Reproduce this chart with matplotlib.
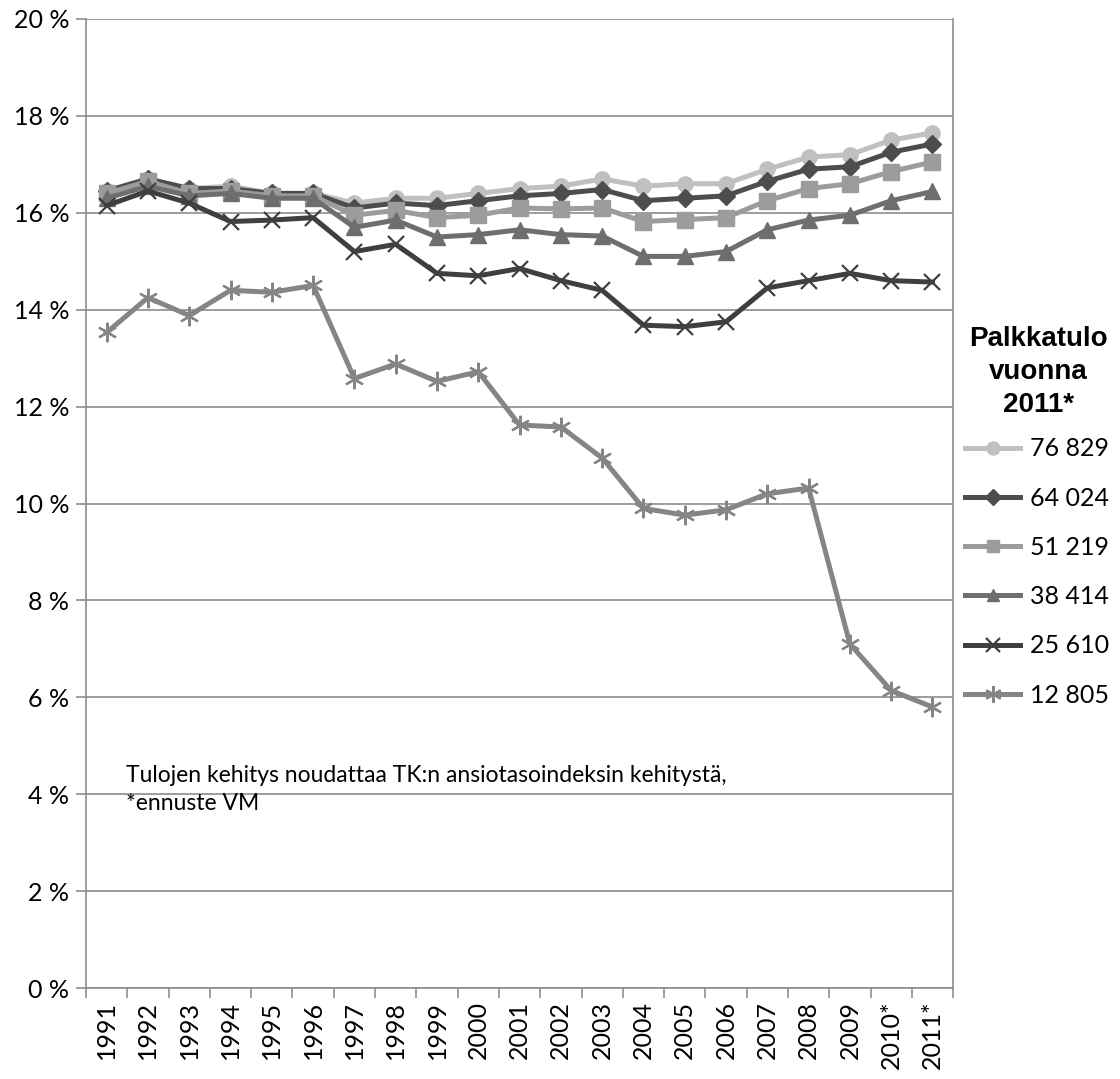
import numpy as np
import matplotlib.pyplot as plt
from matplotlib.ticker import FixedLocator, FuncFormatter

years = ['1991', '1992', '1993', '1994', '1995', '1996', '1997', '1998', '1999', '2000',
         '2001', '2002', '2003', '2004', '2005', '2006', '2007', '2008', '2009', '2010*', '2011*']

s76829 = [16.45, 16.70, 16.50, 16.55, 16.40, 16.40, 16.20, 16.30, 16.30, 16.40,
          16.50, 16.55, 16.70, 16.55, 16.60, 16.60, 16.90, 17.15, 17.20, 17.50, 17.65]
s64024 = [16.45, 16.70, 16.50, 16.50, 16.40, 16.40, 16.10, 16.20, 16.15, 16.25,
          16.35, 16.40, 16.48, 16.25, 16.30, 16.35, 16.65, 16.90, 16.95, 17.25, 17.42]
s51219 = [16.40, 16.65, 16.40, 16.45, 16.35, 16.35, 15.95, 16.05, 15.90, 15.95,
          16.10, 16.08, 16.10, 15.82, 15.86, 15.90, 16.25, 16.50, 16.60, 16.85, 17.05]
s38414 = [16.30, 16.55, 16.35, 16.40, 16.30, 16.30, 15.70, 15.85, 15.50, 15.55,
          15.65, 15.55, 15.52, 15.10, 15.10, 15.20, 15.65, 15.85, 15.95, 16.25, 16.44]
s25610 = [16.15, 16.45, 16.20, 15.82, 15.85, 15.90, 15.20, 15.35, 14.75, 14.70,
          14.85, 14.60, 14.40, 13.68, 13.65, 13.75, 14.45, 14.60, 14.75, 14.60, 14.57]
s12805 = [13.53, 14.25, 13.88, 14.40, 14.36, 14.50, 12.58, 12.88, 12.52, 12.72,
          11.62, 11.58, 10.94, 9.90, 9.76, 9.87, 10.20, 10.32, 7.10, 6.14, 5.80]

labels = ['76 829', '64 024', '51 219', '38 414', '25 610', '12 805']
series = [s76829, s64024, s51219, s38414, s25610, s12805]
colors = ['#c0c0c0', '#4d4d4d', '#9c9c9c', '#6e6e6e', '#3f3f3f', '#858585']
markers = ['o', 'D', 's', '^', 'x', (6, 2, 0)]
msizes = [11, 9, 11, 11, 12, 14]

plt.rcParams['font.family'] = ['Lato', 'DejaVu Sans']

fig = plt.figure(figsize=(11.2, 10.79), dpi=100)
ax = fig.add_axes([0.0768, 0.0843, 0.7742, 0.8981])

x = np.arange(len(years))
for vals, lab, c, m, ms in zip(series, labels, colors, markers, msizes):
    if m == 'x' or isinstance(m, tuple):
        ax.plot(x, vals, color=c, lw=3.6, marker=m, ms=ms, mew=1.6, mec=c, label=lab)
    else:
        ax.plot(x, vals, color=c, lw=3.6, marker=m, ms=ms, mec=c, mfc=c, label=lab)

ax.set_xlim(-0.5, len(years) - 0.5)
ax.set_ylim(0, 20)
ax.set_yticks(np.arange(0, 21, 2))
ax.yaxis.set_major_formatter(FuncFormatter(lambda v, p: f'{int(v)} %'))
ax.grid(axis='y', color='#8c8c8c', lw=1.2)
ax.set_axisbelow(True)

ax.set_xticks(x)
ax.set_xticklabels(years, rotation=90, fontsize=18)
ax.tick_params(axis='x', length=0, pad=9)
ax.xaxis.set_minor_locator(FixedLocator(np.arange(-0.5, len(years), 1)))
ax.tick_params(axis='x', which='minor', length=7, color='#8c8c8c', width=1.2)
ax.tick_params(axis='y', length=7, color='#8c8c8c', width=1.2, labelsize=18, pad=5)

for side in ['top', 'right', 'left', 'bottom']:
    ax.spines[side].set_color('#8c8c8c')
    ax.spines[side].set_linewidth(1.2)
ax.spines['top'].set_visible(False)

ax.text(0.47, 4.1, 'Tulojen kehitys noudattaa TK:n ansiotasoindeksin kehitystä,\n*ennuste VM',
        fontsize=16.5, va='center', ha='left', linespacing=1.45)

fig.text(0.927, 0.655, 'Palkkatulo\nvuonna\n2011*', ha='center', va='center',
         fontsize=20, fontweight='bold', family='Liberation Sans', linespacing=1.35)
leg = fig.legend(loc='upper left', bbox_to_anchor=(0.853, 0.604), frameon=False,
                 fontsize=18, handlelength=2.2, handletextpad=0.4, labelspacing=1.05,
                 borderaxespad=0.0)
for h in leg.legend_handles:
    h.set_markersize(h.get_markersize() * 0.85)

fig.savefig('out.png', dpi=100)
